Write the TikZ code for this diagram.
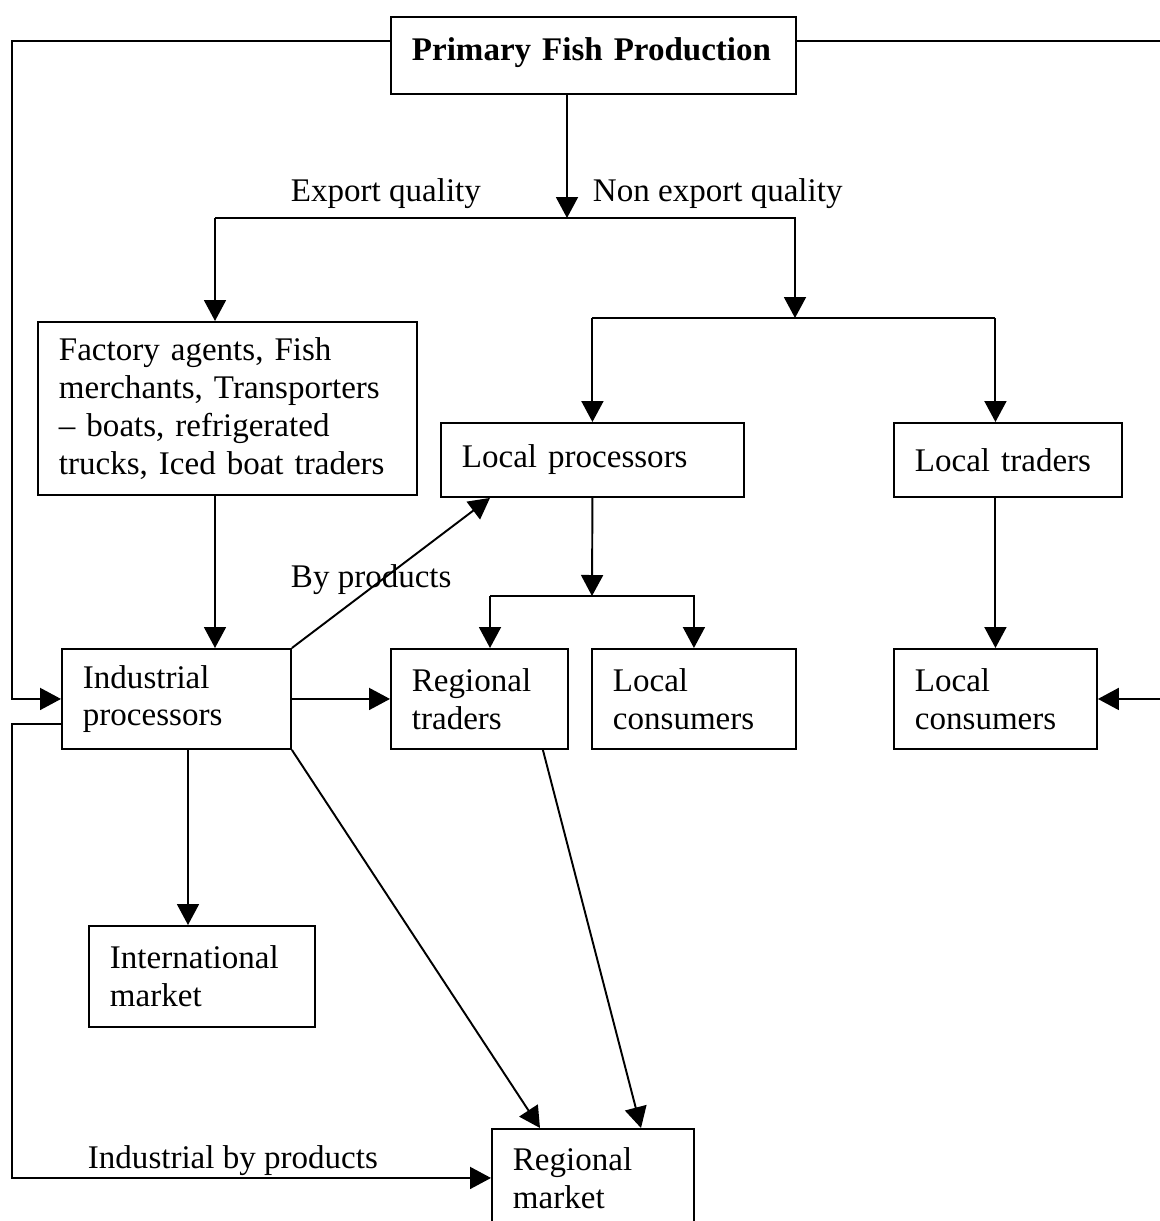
\documentclass[tikz,border=0pt]{standalone}
\usepackage{fontspec}
\setmainfont{Liberation Serif}
\usetikzlibrary{arrows.meta,calc}

\tikzset{
  box/.style={draw, anchor=north west, align=left, inner xsep=0.42cm, inner ysep=0pt},
  lbl/.style={anchor=base west, inner sep=0pt},
  arr/.style={-{Triangle[length=0.42cm,width=0.44cm]}}
}

\begin{document}
\begin{tikzpicture}[x=0.02cm, y=-0.02cm, line width=1.1pt, font=\fontsize{18.8}{21.5}\selectfont]
  \useasboundingbox (0,0) rectangle (1160,1221);
  % boxes
  \node[box, text width=7.26cm, minimum height=1.54cm, text depth=0.26cm] (prim) at (390,16) {\textbf{Primary Fish Production}};
  \node[box, text width=6.74cm, minimum height=3.46cm] (agents) at (37,321)
    {Factory agents, Fish\\merchants, Transporters\\– boats, refrigerated\\trucks, Iced boat traders};
  \node[box, text width=5.22cm, minimum height=1.48cm] (lproc) at (440,422) {Local processors};
  \node[box, text width=3.72cm, minimum height=1.48cm] (ltrad) at (893,422) {Local traders};
  \node[box, text width=3.74cm, minimum height=2cm] (indp) at (61,648) {Industrial\\processors};
  \node[box, text width=2.70cm, minimum height=2cm] (rtrad) at (390,648) {Regional\\traders};
  \node[box, text width=3.24cm, minimum height=2cm] (lcons) at (591,648) {Local\\consumers};
  \node[box, text width=3.22cm, minimum height=2cm] (lconsr) at (893,648) {Local\\consumers};
  \node[box, text width=3.68cm, minimum height=2.02cm] (intl) at (88,925) {International\\market};
  \node[box, text width=3.20cm, minimum height=1.96cm] (rmkt) at (491,1128) {Regional\\market};

  % branch points
  \coordinate (eq) at (567,218);
  \coordinate (ex) at (215,218);
  \coordinate (nx) at (795,218);
  \coordinate (nq) at (795,318);
  \coordinate (ls) at (592,596);
  \coordinate (rx) at (490,596);
  \coordinate (ix) at (188,0);
  \coordinate (lw) at (12,41);
  \coordinate (rw) at (1163,41);
  \coordinate (bw) at (12,724);

  % export / non export split
  \draw[arr] (prim.south -| eq) -- (eq);
  \draw[arr] (ex) -- (nx) -- (nq);
  \draw[arr] (ex) -- (ex |- agents.north);
  \node[lbl] (exl) at (290,201) {Export quality};
  \node[lbl] (nexl) at (592,201) {Non export quality};

  % non export branch
  \draw (lproc.north |- nq) -- (lconsr.north |- nq);
  \draw[arr] (lproc.north |- nq) -- (lproc.north);
  \draw[arr] (lconsr.north |- nq) -- (lconsr.north |- ltrad.north);
  \draw[arr] (lproc.south) -- (ls);
  \draw[arr] (rx) -- (rx |- rtrad.north);
  \draw[arr] (rx) -- (lcons.north |- rx) -- (lcons.north);
  \draw[arr] (lconsr.north |- ltrad.south) -- (lconsr.north);

  % export branch
  \draw[arr] (agents.south -| ex) -- (indp.north -| ex);

  % side loops
  \draw[arr] (prim.west |- lw) -- (lw) |- (indp.west);
  \draw[arr] (prim.east |- rw) -- (rw) |- (lconsr.east);
  \draw[arr] (indp.west |- bw) -- (bw) |- (rmkt.west);
  \node[lbl] (ibyl) at (87,1168) {Industrial by products};

  % industrial outputs
  \draw[arr] (indp.east) -- (rtrad.west);
  \draw[arr] (indp.north east) -- ($(lproc.south west)+(50,0)$);
  \node[lbl] (byl) at (290,587) {By products};
  \draw[arr] (indp.south east) -- ($(rmkt.north west)+(49,0)$);
  \draw[arr] ($(rtrad.south east)+(-26,0)$) -- ($(rmkt.north west)+(150,0)$);
  \draw[arr] (indp.south -| ix) -- (intl.north -| ix);
\end{tikzpicture}
\end{document}
